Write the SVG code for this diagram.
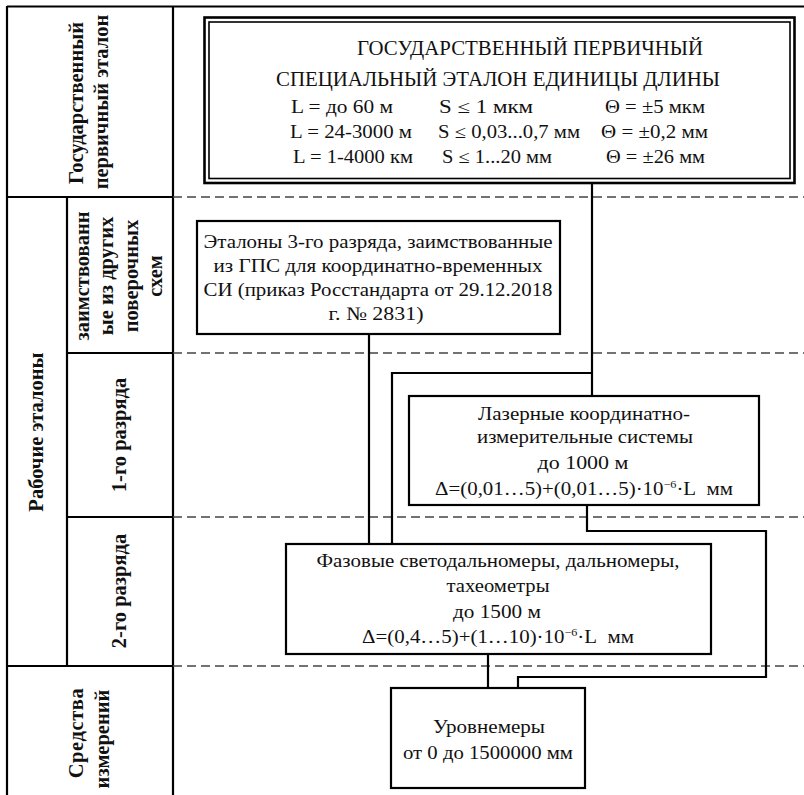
<svg xmlns="http://www.w3.org/2000/svg" width="804" height="795" viewBox="0 0 804 795">
<style>
.t{font-family:"Liberation Serif","Times New Roman",serif;font-size:19px;fill:#111}
.title{font-size:20px}
.row{font-size:18px}
.b{font-family:"Liberation Serif","Times New Roman",serif;font-size:20.5px;font-weight:bold;fill:#111}
.c{text-anchor:middle}
.box{fill:#fff;stroke:#000;stroke-width:2.2}
.grid{stroke:#000;stroke-width:2.2;fill:none}
.dash{stroke:#444;stroke-width:1.4;stroke-dasharray:9 5;fill:none}
.conn{stroke:#000;stroke-width:2.2;fill:none}
</style>
<rect width="804" height="795" fill="#fff"/>
<g id="table">
<path class="grid" d="M7 6.5H804M7 6V795M173 6V795M7 197H173M67 197V666M67 353H173M67 517H173M7 666H173"/>
<path class="dash" d="M173 197H804M173 353H804M173 517H804M173 666H804"/>
<text class="b c" transform="translate(83,103) rotate(-90)">Государственный</text>
<text class="b c" transform="translate(108,102) rotate(-90)">первичный эталон</text>
<text class="b c" transform="translate(43,432) rotate(-90)">Рабочие эталоны</text>
<text class="b c" transform="translate(89,276) rotate(-90)">заимствованн</text>
<text class="b c" transform="translate(113,276) rotate(-90)">ые из других</text>
<text class="b c" transform="translate(138,276) rotate(-90)">поверочных</text>
<text class="b c" transform="translate(162,276) rotate(-90)">схем</text>
<text class="b c" transform="translate(126,435) rotate(-90)">1-го разряда</text>
<text class="b c" transform="translate(126,591) rotate(-90)">2-го разряда</text>
<text class="b c" transform="translate(83,733) rotate(-90)" letter-spacing="0.6">Средства</text>
<text class="b c" transform="translate(109,739) rotate(-90)">измерений</text>
</g>
<g id="connectors">
<path class="conn" d="M592 183V396"/>
<path class="conn" d="M592 373H392V544"/>
<path class="conn" d="M369 334V544"/>
<path class="conn" d="M587 505V531H766V677H518V688"/>
<path class="conn" d="M488 654V688"/>
</g>
<g id="gps">
<rect x="204.5" y="17.5" width="590" height="165.5" fill="#fff" stroke="#000" stroke-width="2.6"/>
<rect x="209" y="22" width="581" height="156.5" fill="none" stroke="#000" stroke-width="1.6"/>
<text class="t title" x="357" y="55" textLength="346" lengthAdjust="spacingAndGlyphs">ГОСУДАРСТВЕННЫЙ ПЕРВИЧНЫЙ</text>
<text class="t title" x="276" y="86" textLength="444" lengthAdjust="spacingAndGlyphs">СПЕЦИАЛЬНЫЙ ЭТАЛОН ЕДИНИЦЫ ДЛИНЫ</text>
<text class="t row" x="291" y="113" textLength="102" lengthAdjust="spacingAndGlyphs">L = до 60 м</text>
<text class="t row" x="290" y="138" textLength="122" lengthAdjust="spacingAndGlyphs">L = 24-3000 м</text>
<text class="t row" x="293" y="163" textLength="120" lengthAdjust="spacingAndGlyphs">L = 1-4000 км</text>
<text class="t row" x="439" y="113" textLength="94" lengthAdjust="spacingAndGlyphs">S ≤ 1 мкм</text>
<text class="t row" x="438" y="138" textLength="142" lengthAdjust="spacingAndGlyphs">S ≤ 0,03...0,7 мм</text>
<text class="t row" x="442" y="163" textLength="110" lengthAdjust="spacingAndGlyphs">S ≤ 1...20 мм</text>
<text class="t row" x="605" y="113" textLength="100" lengthAdjust="spacingAndGlyphs">Θ = ±5 мкм</text>
<text class="t row" x="601" y="138" textLength="107" lengthAdjust="spacingAndGlyphs">Θ = ±0,2 мм</text>
<text class="t row" x="606" y="163" textLength="99" lengthAdjust="spacingAndGlyphs">Θ = ±26 мм</text>
</g>
<g id="etalon3">
<rect class="box" x="197" y="221" width="363" height="113"/>
<text class="t c" x="378" y="248" textLength="349" lengthAdjust="spacingAndGlyphs">Эталоны 3-го разряда, заимствованные</text>
<text class="t c" x="378" y="272" textLength="329" lengthAdjust="spacingAndGlyphs">из ГПС для координатно-временных</text>
<text class="t c" x="378" y="296" textLength="349" lengthAdjust="spacingAndGlyphs">СИ (приказ Росстандарта от 29.12.2018</text>
<text class="t c" x="376" y="320" textLength="95" lengthAdjust="spacingAndGlyphs">г. № 2831)</text>
</g>
<g id="laser">
<rect class="box" x="409" y="396" width="350" height="109"/>
<text class="t c" x="584" y="420" textLength="212" lengthAdjust="spacingAndGlyphs">Лазерные координатно-</text>
<text class="t c" x="585" y="443" textLength="216" lengthAdjust="spacingAndGlyphs">измерительные системы</text>
<text class="t c" x="583" y="469" textLength="91" lengthAdjust="spacingAndGlyphs">до 1000 м</text>
<text class="t c" transform="translate(584,0) scale(1.1,1)" x="0" y="495">Δ=(0,01…5)+(0,01…5)·10<tspan font-size="11" dy="-7">−6</tspan><tspan dy="7">·L&#160; мм</tspan></text>
</g>
<g id="phase">
<rect class="box" x="286" y="544" width="425" height="110"/>
<text class="t c" x="498" y="567" textLength="363" lengthAdjust="spacingAndGlyphs">Фазовые светодальномеры, дальномеры,</text>
<text class="t c" x="498" y="592" textLength="103" lengthAdjust="spacingAndGlyphs">тахеометры</text>
<text class="t c" x="497" y="618" textLength="88" lengthAdjust="spacingAndGlyphs">до 1500 м</text>
<text class="t c" transform="translate(498,0) scale(1.1,1)" x="0" y="643">Δ=(0,4…5)+(1…10)·10<tspan font-size="11" dy="-7">−6</tspan><tspan dy="7">·L&#160; мм</tspan></text>
</g>
<g id="level">
<rect class="box" x="391" y="688" width="194" height="100"/>
<text class="t c" x="489" y="733" textLength="112" lengthAdjust="spacingAndGlyphs">Уровнемеры</text>
<text class="t c" x="488" y="759" textLength="170" lengthAdjust="spacingAndGlyphs">от 0 до 1500000 мм</text>
</g>
</svg>
